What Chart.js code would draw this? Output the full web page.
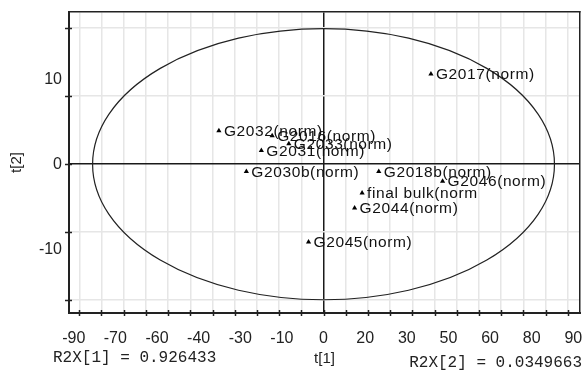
<!DOCTYPE html>
<html>
<head>
<meta charset="utf-8">
<script src="https://cdn.jsdelivr.net/npm/chart.js@4.4.1/dist/chart.umd.min.js"></script>
<style>
html,body{margin:0;padding:0;background:#fff;}
canvas{display:block;}
</style>
</head>
<body>
<canvas id="c" width="583" height="379"></canvas>
<script>
// ---- data ----
const pointLabels = ['G2017(norm)','G2032(norm)','G2016(norm)','G2033(norm)','G2031(norm)','G2030b(norm)','G2018b(norm)','G2046(norm)','final bulk(norm','G2044(norm)','G2045(norm)'];
const t1Values = [38.7, -37.7, -18.5, -12.5, -22.4, -27.8, 19.9, 42.9, 13.9, 11.2, -5.4];
const t2Values = [10.6, 3.94, 3.35, 2.4, 1.62, -0.85, -0.85, -2.0, -3.4, -5.15, -9.15];
const xTickValues = [-90, -75, -60, -45, -30, -15, 0, 15, 30, 45, 60, 75, 90];
const xTickLabels = ['-90','-70','-60','-40','-30','-10','0','20','30','50','60','80','90'];
const yTickValues = [-10, 0, 10];
const yTickLabels = ['-10','0','10'];
const ellipseRadii = [83.2, 15.94]; // semi-axes of the Hotelling ellipse (t[1], t[2])
const r2xTexts = ['R2X[1] = 0.926433', 'R2X[2] = 0.0349663'];
const xRange = [-91.7, 92.4];
const yRange = [-17.5, 17.9];

const pts = t1Values.map((v, i) => ({x: v, y: t2Values[i]}));
const gridColor = (ctx) => (ctx.tick && ctx.tick.value === 0) ? '#1a1a1a' : '#e6e6e6';

const decor = {
  id: 'decor',
  beforeDatasetsDraw(chart) {
    const {ctx} = chart;
    const xs = chart.scales.x, ys = chart.scales.y;
    const cx = xs.getPixelForValue(0), cy = ys.getPixelForValue(0);
    const rx = xs.getPixelForValue(ellipseRadii[0]) - cx;
    const ry = cy - ys.getPixelForValue(ellipseRadii[1]);
    ctx.save();
    ctx.beginPath();
    ctx.ellipse(cx, cy, rx, ry, 0, 0, Math.PI * 2);
    ctx.strokeStyle = '#222';
    ctx.lineWidth = 1.2;
    ctx.stroke();
    ctx.restore();
  },
  afterDatasetsDraw(chart) {
    const {ctx, chartArea} = chart;
    ctx.save();
    const meta = chart.getDatasetMeta(0);
    ctx.fillStyle = '#111';
    ctx.font = '15.5px "Liberation Sans", Arial, sans-serif';
    if ('letterSpacing' in ctx) ctx.letterSpacing = '0.6px';
    ctx.textBaseline = 'middle';
    ctx.textAlign = 'left';
    meta.data.forEach((el, i) => {
      ctx.fillText(pointLabels[i], el.x + 5, el.y + 1);
    });
    if ('letterSpacing' in ctx) ctx.letterSpacing = '0px';
    ctx.strokeStyle = '#222';
    ctx.lineWidth = 1.5;
    const xg = chart.scales.xg, yg = chart.scales.yg;
    xg.ticks.forEach(t => {
      const px = Math.round(xg.getPixelForValue(t.value)) + 0.5;
      ctx.beginPath();
      ctx.moveTo(px, chartArea.bottom - 3);
      ctx.lineTo(px, chartArea.bottom + 3);
      ctx.stroke();
    });
    yg.ticks.forEach(t => {
      const py = Math.round(yg.getPixelForValue(t.value)) + 0.5;
      ctx.beginPath();
      ctx.moveTo(chartArea.left - 4, py);
      ctx.lineTo(chartArea.left + 3, py);
      ctx.stroke();
    });
    ctx.fillStyle = '#222';
    ctx.font = '16px "Liberation Mono", "Courier New", monospace';
    ctx.textBaseline = 'middle';
    ctx.textAlign = 'left';
    ctx.fillText(r2xTexts[0], 53, 358);
    ctx.textAlign = 'right';
    ctx.fillText(r2xTexts[1], 582, 363);
    ctx.restore();
  }
};

new Chart(document.getElementById('c'), {
  type: 'scatter',
  data: {
    datasets: [{
      data: pts,
      pointStyle: 'triangle',
      pointRadius: 3,
      pointHoverRadius: 3,
      pointBackgroundColor: '#000',
      pointBorderWidth: 0,
      borderWidth: 0
    }]
  },
  options: {
    responsive: false,
    animation: false,
    devicePixelRatio: 1,
    layout: {padding: {top: 12, right: 2, bottom: 0, left: 0}},
    plugins: {legend: {display: false}, tooltip: {enabled: false}},
    scales: {
      x: {
        type: 'linear', position: 'bottom',
        min: xRange[0], max: xRange[1],
        afterBuildTicks: s => { s.ticks = xTickValues.map(v => ({value: v})); },
        ticks: {
          callback: (v, i) => xTickLabels[i],
          maxRotation: 0, autoSkip: false,
          font: {family: '"Liberation Sans", Arial, sans-serif', size: 16},
          color: '#222', padding: 16
        },
        grid: {display: false, drawTicks: false},
        border: {display: true, color: '#222', width: 2},
        title: {display: true, text: 't[1]', color: '#222',
          font: {family: '"Liberation Sans", Arial, sans-serif', size: 15},
          padding: {top: 0, bottom: 11}},
        afterFit: s => { s.height = 66; s.paddingLeft = 0; s.paddingRight = 0; }
      },
      y: {
        type: 'linear', position: 'left',
        min: yRange[0], max: yRange[1],
        afterBuildTicks: s => { s.ticks = yTickValues.map(v => ({value: v})); },
        ticks: {
          callback: (v, i) => yTickLabels[i],
          font: {family: '"Liberation Sans", Arial, sans-serif', size: 16},
          color: '#222', padding: 7
        },
        grid: {display: false, drawTicks: false},
        border: {display: true, color: '#222', width: 2},
        title: {display: true, text: 't[2]', color: '#222',
          font: {family: '"Liberation Sans", Arial, sans-serif', size: 15},
          padding: {top: 8, bottom: 0}},
        afterFit: s => { s.width = 69; s.paddingTop = 0; s.paddingBottom = 0; }
      },
      xg: {
        type: 'linear', position: 'top',
        min: xRange[0], max: xRange[1],
        ticks: {display: false, stepSize: 8, includeBounds: false},
        grid: {color: gridColor, lineWidth: 1.5, drawTicks: false},
        border: {display: true, color: '#222', width: 1.5},
        afterFit: s => { s.height = 0; s.paddingLeft = 0; s.paddingRight = 0; }
      },
      yg: {
        type: 'linear', position: 'right',
        min: yRange[0], max: yRange[1],
        ticks: {display: false, stepSize: 8, includeBounds: false},
        grid: {color: gridColor, lineWidth: 1.5, drawTicks: false},
        border: {display: true, color: '#222', width: 1.5},
        afterFit: s => { s.width = 0; s.paddingTop = 0; s.paddingBottom = 0; }
      }
    }
  },
  plugins: [decor]
});
</script>
</body>
</html>
